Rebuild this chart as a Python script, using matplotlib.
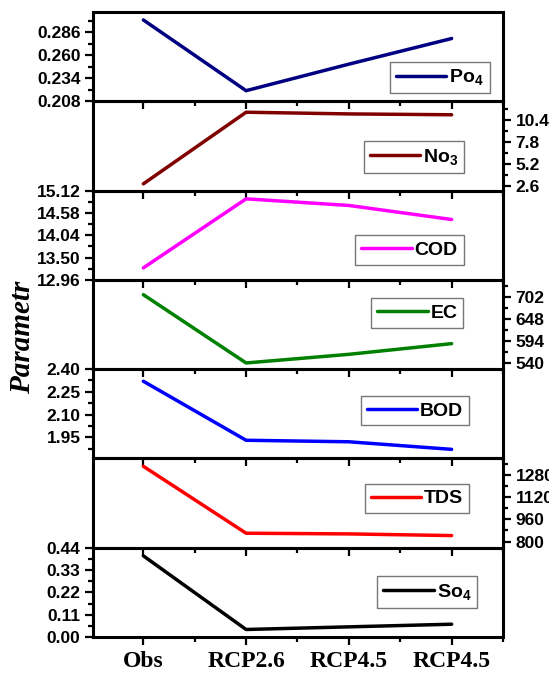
import matplotlib
matplotlib.use("Agg")
import matplotlib.pyplot as plt
from matplotlib.ticker import FixedLocator, MultipleLocator, FormatStrFormatter

plt.rcParams["font.family"] = ["Liberation Sans", "DejaVu Sans"]
plt.rcParams["font.weight"] = "bold"
plt.rcParams["mathtext.fontset"] = "custom"
plt.rcParams["mathtext.rm"] = "Liberation Sans:bold"
plt.rcParams["mathtext.bf"] = "Liberation Sans:bold"
plt.rcParams["mathtext.it"] = "Liberation Sans:bold"
plt.rcParams["mathtext.default"] = "bf"

# x categories
categories = ["Obs", "RCP2.6", "RCP4.5", "RCP4.5"]

# series values (top panel to bottom panel)
po4 = [0.300, 0.220, 0.250, 0.279]
no3 = [2.8, 11.3, 11.1, 11.0]
cod = [13.25, 14.92, 14.76, 14.42]
ec = [707, 541, 562, 588]
bod = [2.32, 1.93, 1.92, 1.87]
tds = [1345, 860, 855, 843]
so4 = [0.40, 0.037, 0.05, 0.063]

series_names = ["Po$_4$", "No$_3$", "COD", "EC", "BOD", "TDS", "So$_4$"]
series_values = [po4, no3, cod, ec, bod, tds, so4]
colors = ["#000080", "#800000", "#FF00FF", "#008000", "#0000FF", "#FF0000", "#000000"]

# axis ticks for each panel
yticks = [
    [0.208, 0.234, 0.260, 0.286],
    [2.6, 5.2, 7.8, 10.4],
    [12.96, 13.50, 14.04, 14.58, 15.12],
    [540, 594, 648, 702],
    [1.95, 2.10, 2.25, 2.40],
    [800, 960, 1120, 1280],
    [0.00, 0.11, 0.22, 0.33, 0.44],
]
ylims = [
    (0.208, 0.309),
    (2.0, 12.6),
    (12.96, 15.12),
    (526, 743),
    (1.81, 2.40),
    (755, 1402),
    (0.0, 0.44),
]
fmts = ["%.3f", "%.1f", "%.2f", "%d", "%.2f", "%d", "%.2f"]
right_side = [False, True, False, True, False, True, False]
legend_pos = [
    (0.846, 0.267),
    (0.783, 0.375),
    (0.772, 0.333),
    (0.791, 0.628),
    (0.785, 0.533),
    (0.790, 0.550),
    (0.815, 0.506),
]

fig = plt.figure(figsize=(5.49, 6.73), dpi=100)
gs = fig.add_gridspec(
    nrows=7, ncols=1, hspace=0,
    left=93 / 549, right=503 / 549, top=1 - 12 / 673, bottom=1 - 637 / 673,
)

x = list(range(len(categories)))
axes = []
for i in range(7):
    ax = fig.add_subplot(gs[i, 0], sharex=axes[0] if axes else None)
    axes.append(ax)
    ax.patch.set_facecolor("none")
    ax.plot(x, series_values[i], color=colors[i], lw=2.5,
            label=series_names[i], solid_capstyle="round")
    ax.set_ylim(*ylims[i])
    step = yticks[i][1] - yticks[i][0]
    ax.yaxis.set_major_locator(FixedLocator(yticks[i]))
    ax.yaxis.set_minor_locator(MultipleLocator(step / 2))
    ax.yaxis.set_major_formatter(FormatStrFormatter(fmts[i]))
    if right_side[i]:
        ax.yaxis.tick_right()
    else:
        ax.yaxis.tick_left()
    for sp in ax.spines.values():
        sp.set_linewidth(2.2)
    ax.tick_params(axis="y", which="major", direction="out", length=6,
                   width=1.6, labelsize=12.5, pad=3)
    ax.tick_params(axis="y", which="minor", direction="out", length=3.5,
                   width=1.6)
    ax.tick_params(axis="x", which="major", direction="out", length=6,
                   width=1.6, labelbottom=(i == 6), pad=4)
    ax.tick_params(axis="x", which="minor", direction="out", length=3.5,
                   width=1.6)
    for lab in ax.get_yticklabels():
        lab.set_fontweight("bold")
    leg = ax.legend(loc="center", bbox_to_anchor=legend_pos[i],
                    frameon=True, fancybox=False, fontsize=14,
                    handlelength=2.6, handletextpad=0.15, borderpad=0.3,
                    borderaxespad=0)
    leg.get_frame().set_edgecolor("#555555")
    leg.get_frame().set_linewidth(1.0)
    for t in leg.get_texts():
        t.set_fontweight("bold")

ax_b = axes[-1]
ax_b.set_xlim(-0.49, 3.5)
ax_b.xaxis.set_major_locator(FixedLocator(x))
ax_b.xaxis.set_minor_locator(MultipleLocator(0.5))
ax_b.set_xticklabels(categories, family=["Liberation Serif"], fontweight="bold",
                     fontsize=17)

fig.text(23 / 549, 1 - 337 / 673, "Parametr", rotation=90, ha="center",
         va="center", family=["Liberation Serif"], fontweight="bold",
         style="italic", fontsize=21)

fig.savefig("out.png", dpi=100)
plt.close(fig)
